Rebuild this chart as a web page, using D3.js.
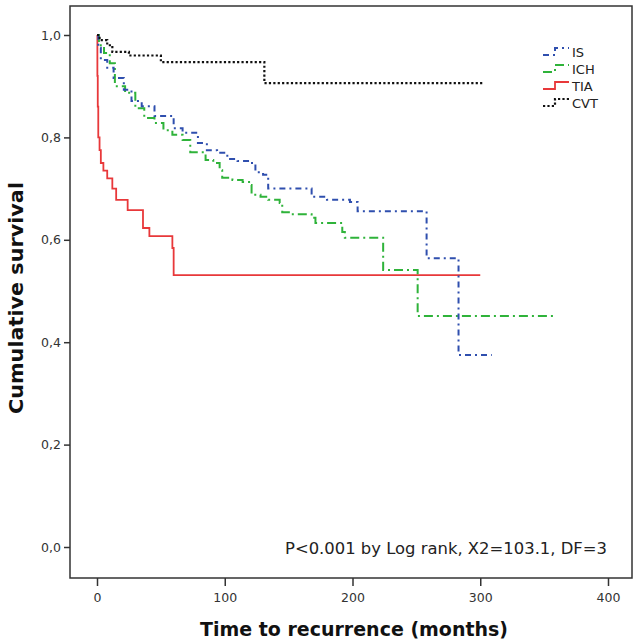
<!DOCTYPE html>
<html><head><meta charset="utf-8">
<script src="https://cdn.jsdelivr.net/npm/d3@7/dist/d3.min.js"></script>
<style>body{margin:0;background:#fff}svg{display:block}</style>
</head><body>
<svg id="c" width="640" height="642"></svg>
<script>
// ---- data ----
const xTicks = [0, 100, 200, 300, 400];
const yTicks = [0, 0.2, 0.4, 0.6, 0.8, 1.0];
const seriesNames = ["IS", "ICH", "TIA", "CVT"];
const isTime = [0, 1, 3, 8, 13, 21, 27, 35, 45, 60, 67, 79, 86, 94, 102, 110, 120, 124, 130, 134, 168, 180, 198, 204, 258, 283, 309];
const isSurv = [1.0, 0.975, 0.951, 0.936, 0.916, 0.893, 0.871, 0.861, 0.842, 0.818, 0.809, 0.789, 0.775, 0.77, 0.758, 0.754, 0.75, 0.732, 0.727, 0.70, 0.684, 0.678, 0.674, 0.656, 0.564, 0.375, 0.375];
const ichTime = [0, 1.5, 5.5, 10, 14, 22, 30, 37, 45, 52, 59, 67, 73, 85, 91, 96, 98, 106, 114, 120, 121, 128, 134, 143, 145, 151, 168, 171, 192, 194, 224, 251, 358];
const ichSurv = [1.0, 0.98, 0.965, 0.945, 0.90, 0.887, 0.857, 0.838, 0.828, 0.814, 0.805, 0.795, 0.771, 0.756, 0.75, 0.736, 0.721, 0.717, 0.713, 0.707, 0.688, 0.684, 0.678, 0.672, 0.654, 0.65, 0.643, 0.633, 0.615, 0.604, 0.541, 0.451, 0.451];
const tiaTime = [0, 0.3, 0.6, 1, 2, 3, 5, 8, 12, 15, 24, 36, 41, 59, 60, 300];
const tiaSurv = [1.0, 0.92, 0.86, 0.80, 0.775, 0.75, 0.735, 0.72, 0.70, 0.678, 0.658, 0.623, 0.607, 0.584, 0.531, 0.531];
const cvtTime = [0, 2, 8, 12, 25, 50, 131, 302];
const cvtSurv = [1.0, 0.99, 0.98, 0.967, 0.96, 0.947, 0.906, 0.906];
const annotation = "P<0.001 by Log rank, X2=103.1, DF=3";

// ---- drawing ----
const svg = d3.select("#c");
const x = d3.scaleLinear().domain([0, 400]).range([97, 608]);
const y = d3.scaleLinear().domain([0, 1]).range([547, 35]);
const frame = {x0: 70, y0: 6, x1: 632, y1: 578};

svg.append("rect").attr("x", frame.x0).attr("y", frame.y0)
  .attr("width", frame.x1 - frame.x0).attr("height", frame.y1 - frame.y0)
  .attr("fill", "none").attr("stroke", "#333").attr("stroke-width", 1.5);

const fmt = d => d3.format(".1f")(d).replace(".", ",");
const yAxis = svg.append("g").attr("transform", `translate(${frame.x0},0)`)
  .call(d3.axisLeft(y).tickValues(yTicks).tickFormat(fmt).tickSize(6).tickPadding(3));
const xAxis = svg.append("g").attr("transform", `translate(0,${frame.y1})`)
  .call(d3.axisBottom(x).tickValues(xTicks).tickFormat(d3.format("d")).tickSize(8).tickPadding(7));
[yAxis, xAxis].forEach(g => {
  g.select(".domain").remove();
  g.selectAll(".tick line").attr("stroke", "#333").attr("stroke-width", 1.5);
  g.selectAll(".tick text").attr("fill", "#333").style("font-family", "DejaVu Sans").style("font-size", "12.5px");
});

svg.append("text").attr("x", 354).attr("y", 636).attr("text-anchor", "middle")
  .style("font-family", "DejaVu Sans").style("font-weight", "bold").style("font-size", "19px")
  .attr("fill", "#111").attr("textLength", 308).attr("lengthAdjust", "spacingAndGlyphs")
  .text("Time to recurrence (months)");
svg.append("text").attr("transform", "translate(23,298) rotate(-90)").attr("text-anchor", "middle")
  .style("font-family", "DejaVu Sans").style("font-weight", "bold").style("font-size", "20px")
  .attr("fill", "#111").attr("textLength", 232).attr("lengthAdjust", "spacingAndGlyphs")
  .text("Cumulative survival");

svg.append("text").attr("x", 285).attr("y", 554)
  .style("font-family", "DejaVu Sans").style("font-size", "15px").attr("fill", "#222")
  .attr("textLength", 322).attr("lengthAdjust", "spacingAndGlyphs")
  .text(annotation);

const styles = {
  IS:  {color: "#2f4fae", dash: "6,4,2,4", w: 2},
  ICH: {color: "#2fb33a", dash: "9,4,2,4", w: 2},
  TIA: {color: "#e8383a", dash: null, w: 1.8},
  CVT: {color: "#111", dash: "2.2,2.2", w: 2.2}
};
const data = {
  IS: d3.zip(isTime, isSurv), ICH: d3.zip(ichTime, ichSurv),
  TIA: d3.zip(tiaTime, tiaSurv), CVT: d3.zip(cvtTime, cvtSurv)
};
const line = d3.line().x(d => x(d[0])).y(d => y(d[1])).curve(d3.curveStepAfter);
["TIA", "ICH", "IS", "CVT"].forEach(k => {
  const s = styles[k];
  svg.append("path").attr("d", line(data[k])).attr("fill", "none")
    .attr("stroke", s.color).attr("stroke-width", s.w)
    .attr("stroke-dasharray", s.dash);
});

// legend
seriesNames.forEach((k, i) => {
  const s = styles[k];
  const ly = 52 + i * 17;
  const sym = [[0, 3], [12, 3], [12, -4], [26, -4]];
  svg.append("path").attr("d", d3.line().x(d => 543 + d[0]).y(d => ly + d[1])(sym))
    .attr("fill", "none").attr("stroke", s.color).attr("stroke-width", s.w)
    .attr("stroke-dasharray", s.dash);
  svg.append("text").attr("x", 572).attr("y", ly + 5)
    .style("font-family", "DejaVu Sans").style("font-size", "13px").attr("fill", "#222").text(k);
});
</script>
</body></html>
